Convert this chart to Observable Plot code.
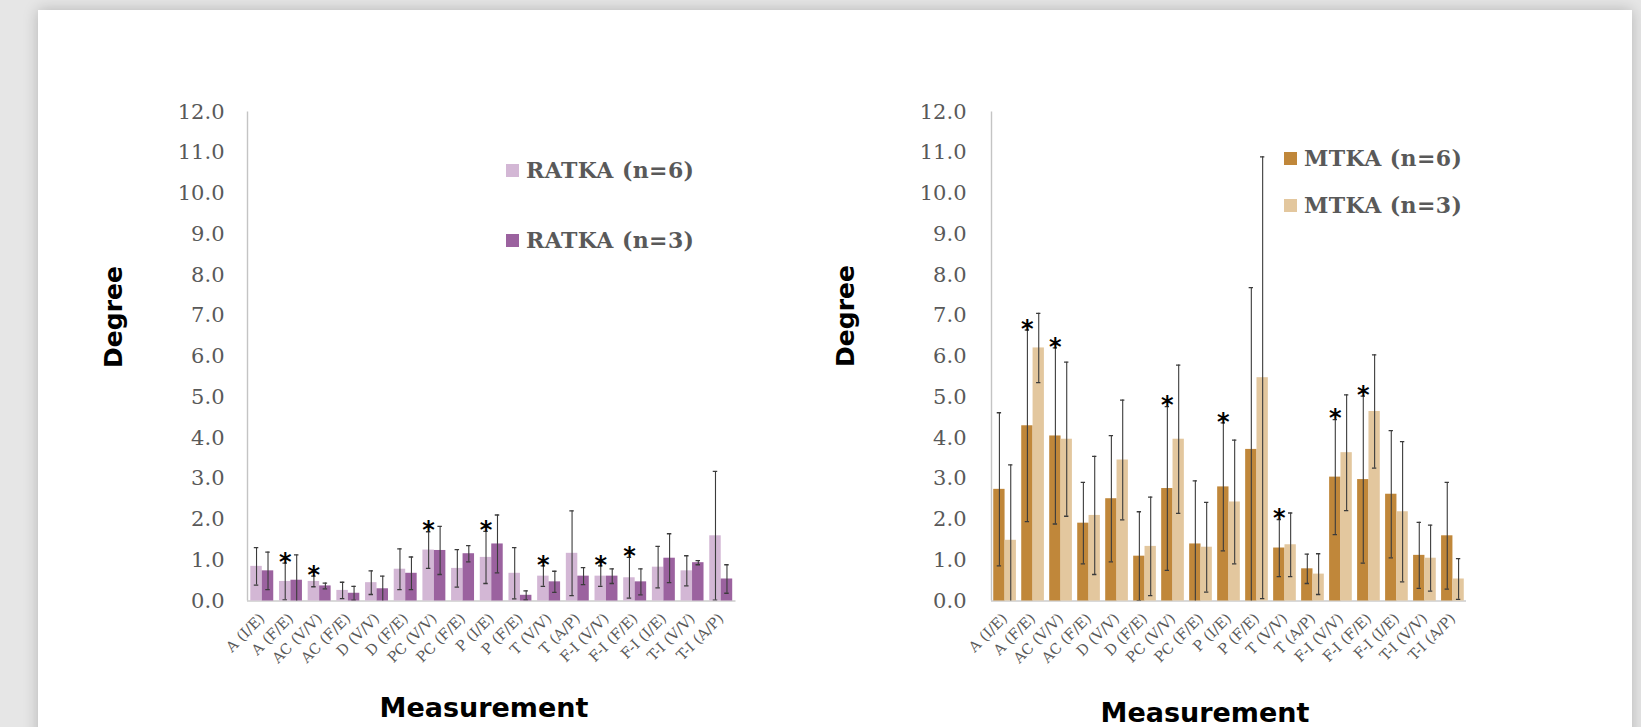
<!DOCTYPE html>
<html>
<head>
<meta charset="utf-8">
<script src="https://cdn.jsdelivr.net/npm/d3@7"></script>
<script src="https://cdn.jsdelivr.net/npm/@observablehq/plot@0.6"></script>
<style>
  html, body { margin: 0; padding: 0; width: 1641px; height: 727px; overflow: hidden; background: #e6e6e6; }
  #card { position: absolute; left: 38px; top: 10px; width: 1594px; height: 780px; background: #fff; box-shadow: 0 0 14px rgba(0,0,0,0.22); }
  .layer { position: absolute; top: 0; }
  .legend { position: absolute; height: 26px; line-height: 26px; display: flex; align-items: center; white-space: nowrap;
            font-family: "DejaVu Serif", serif; font-weight: bold; font-size: 22px; color: #595959; letter-spacing: 0.4px; }
  .legend .sw { display: inline-block; width: 13px; height: 13px; margin-right: 7px; }
  .ytitle { position: absolute; font-family: "DejaVu Sans", sans-serif; font-weight: bold; font-size: 25px; line-height: 1; color: #000;
            transform: translate(-50%, -50%) rotate(-90deg); white-space: nowrap; }
  .xtitle { position: absolute; font-family: "DejaVu Sans", sans-serif; font-weight: bold; font-size: 27px; line-height: 1; color: #000;
            transform: translateX(-50%); white-space: nowrap; }
</style>
</head>
<body>
<div id="card"></div>
<div id="root"></div>
<script>
// ---------------- data ----------------
const categories = ["A (I/E)", "A (F/E)", "AC (V/V)", "AC (F/E)", "D (V/V)", "D (F/E)", "PC (V/V)", "PC (F/E)",
  "P (I/E)", "P (F/E)", "T (V/V)", "T (A/P)", "F-I (V/V)", "F-I (F/E)", "F-I (I/E)", "T-I (V/V)", "T-I (A/P)"];
const yTicks = [0, 1, 2, 3, 4, 5, 6, 7, 8, 9, 10, 11, 12];
// significance markers (on the n=6 series)
const starred = [false, true, true, false, false, false, true, false, true, false, true, false, true, true, false, false, false];

// RATKA
const ratka6Mean = [0.85, 0.48, 0.48, 0.26, 0.45, 0.78, 1.25, 0.80, 1.07, 0.68, 0.61, 1.17, 0.61, 0.57, 0.83, 0.74, 1.60];
const ratka6Sd   = [0.46, 0.45, 0.13, 0.20, 0.29, 0.50, 0.45, 0.46, 0.64, 0.63, 0.25, 1.04, 0.25, 0.50, 0.51, 0.37, 1.58];
const ratka3Mean = [0.74, 0.51, 0.37, 0.19, 0.30, 0.68, 1.24, 1.16, 1.40, 0.14, 0.47, 0.61, 0.61, 0.47, 1.05, 0.94, 0.54];
const ratka3Sd   = [0.46, 0.62, 0.07, 0.17, 0.31, 0.40, 0.59, 0.20, 0.71, 0.11, 0.26, 0.21, 0.18, 0.32, 0.60, 0.05, 0.35];

// MTKA
const mtka6Mean = [2.74, 4.30, 4.05, 1.91, 2.51, 1.10, 2.76, 1.40, 2.80, 3.72, 1.30, 0.79, 3.04, 2.98, 2.62, 1.12, 1.60];
const mtka6Sd   = [1.88, 2.35, 2.16, 1.00, 1.55, 1.09, 2.01, 1.55, 1.57, 3.97, 0.70, 0.36, 1.41, 2.05, 1.56, 0.81, 1.31];
const mtka3Mean = [1.49, 6.21, 3.97, 2.10, 3.46, 1.34, 3.97, 1.32, 2.43, 5.48, 1.38, 0.66, 3.64, 4.65, 2.19, 1.05, 0.54];
const mtka3Sd   = [1.85, 0.85, 1.89, 1.45, 1.47, 1.21, 1.82, 1.10, 1.52, 5.42, 0.78, 0.50, 1.42, 1.39, 1.72, 0.81, 0.50];

const seriesLeft  = ["RATKA (n=6)", "RATKA (n=3)"];
const seriesRight = ["MTKA (n=6)", "MTKA (n=3)"];
const colorsLeft  = ["#d3b7d5", "#9b629f"];
const colorsRight = ["#c0873a", "#e3c79e"];

// ---------------- build ----------------
function rowsFor(series, m6, s6, m3, s3) {
  return categories.flatMap((c, i) => [
    {cat: c, series: series[0], mean: m6[i], sd: s6[i], star: starred[i]},
    {cat: c, series: series[1], mean: m3[i], sd: s3[i], star: false}
  ]);
}

const root = document.getElementById("root");
const H = 727, MT = 111.5, MB = 126.5;

function chart({left, width, marginLeft, marginRight, tickPadding, series, colors, rows, padInner, padOuter}) {
  const common = {width, height: H, marginLeft, marginRight, marginTop: MT, marginBottom: MB};
  const base = Plot.plot({
    ...common,
    style: {fontFamily: "DejaVu Serif, serif", fontSize: "21px", color: "#595959", background: "transparent", overflow: "visible"},
    x: {type: "linear", domain: [0, 1], axis: null},
    y: {domain: [0, 12], ticks: yTicks, tickFormat: d => d.toFixed(1), tickSize: 0, tickPadding, label: null},
    marks: [
      Plot.ruleY([0], {stroke: "#d9d9d9", strokeWidth: 1.8}),
      Plot.ruleX([0], {y1: 0, y2: 12, stroke: "#c4c4c4", strokeWidth: 1.4})
    ]
  });
  const bars = Plot.plot({
    ...common,
    style: {fontFamily: "DejaVu Serif, serif", fontSize: "14.5px", color: "#595959", background: "transparent", overflow: "visible"},
    facet: {data: rows, x: "cat"},
    fx: {domain: categories, round: false, paddingInner: padInner, paddingOuter: padOuter, axis: "bottom", tickRotate: -45, tickSize: 0, tickPadding: 15, label: null},
    x: {domain: series, round: false, padding: 0, axis: null},
    y: {domain: [0, 12], axis: null},
    color: {domain: series, range: colors},
    marks: [
      Plot.barY(rows, {x: "series", y: "mean", fill: "series"}),
      Plot.ruleX(rows, {x: "series", y1: d => d.mean - d.sd, y2: d => d.mean + d.sd, stroke: "#3b3b3b", strokeWidth: 1.1, clip: true}),
      Plot.tickY(rows, {x: "series", y: d => d.mean + d.sd, insetLeft: 3.5, insetRight: 3.5, stroke: "#3b3b3b", strokeWidth: 1.3, clip: true}),
      Plot.tickY(rows, {x: "series", y: d => d.mean - d.sd, insetLeft: 3.5, insetRight: 3.5, stroke: "#3b3b3b", strokeWidth: 1.3, clip: true}),
      Plot.text(rows, {filter: d => d.star, x: "series", y: d => d.mean + d.sd, text: () => "*", dy: -1,
        fontSize: 24, fontWeight: "bold", fontFamily: "DejaVu Sans, sans-serif", fill: "#000"})
    ]
  });
  for (const svg of [base, bars]) {
    svg.classList.add("layer");
    svg.style.left = left + "px";
    root.appendChild(svg);
  }
}

chart({left: 0, width: 780, marginLeft: 247, marginRight: 44.5, tickPadding: 23,
  series: seriesLeft, colors: colorsLeft, padInner: 0.2, padOuter: 0.115,
  rows: rowsFor(seriesLeft, ratka6Mean, ratka6Sd, ratka3Mean, ratka3Sd)});
chart({left: 780, width: 800, marginLeft: 211, marginRight: 114, tickPadding: 25,
  series: seriesRight, colors: colorsRight, padInner: 0.19, padOuter: 0.08,
  rows: rowsFor(seriesRight, mtka6Mean, mtka6Sd, mtka3Mean, mtka3Sd)});

// legends and titles (HTML, positioned over the plots)
function legend(x, yCenter, label, color) {
  const d = document.createElement("div");
  d.className = "legend";
  d.style.left = x + "px";
  d.style.top = (yCenter - 13) + "px";
  d.innerHTML = `<span class="sw" style="background:${color}"></span><span>${label}</span>`;
  root.appendChild(d);
}
legend(506, 170, seriesLeft[0], colorsLeft[0]);
legend(506, 240, seriesLeft[1], colorsLeft[1]);
legend(1284, 158, seriesRight[0], colorsRight[0]);
legend(1284, 205, seriesRight[1], colorsRight[1]);

function title(cls, x, y, txt) {
  const d = document.createElement("div");
  d.className = cls;
  d.style.left = x + "px";
  d.style.top = y + "px";
  d.textContent = txt;
  root.appendChild(d);
}
title("ytitle", 112.5, 316.5, "Degree");
title("ytitle", 844.5, 316, "Degree");
title("xtitle", 484, 694, "Measurement");
title("xtitle", 1205, 699, "Measurement");
</script>
</body>
</html>
